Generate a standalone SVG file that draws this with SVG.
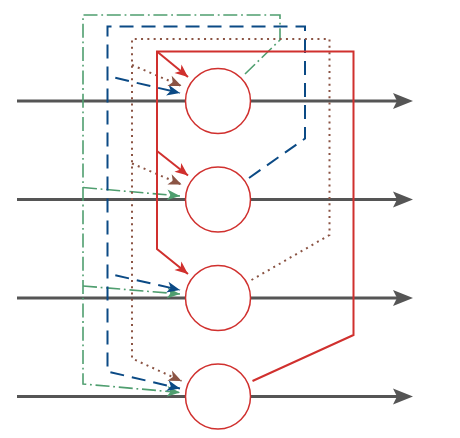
<svg xmlns="http://www.w3.org/2000/svg" width="460" height="438" viewBox="0 0 460 438">
<defs>
<style>
.axis{stroke:#555555;stroke-width:3;fill:none}
.node{fill:#ffffff;stroke:#d0302e;stroke-width:1.5}
.red{stroke:#d0302e;stroke-width:2;fill:none}
.blue{stroke:#0b4a85;stroke-width:2;fill:none;stroke-dasharray:14 8}
.branch{stroke-dashoffset:14}
.green{stroke:#4f9e6f;stroke-width:1.6;fill:none;stroke-dasharray:14 3.7 1.8 3.8}
.brown{stroke:#8b5444;stroke-width:2;fill:none;stroke-dasharray:2 4.3}
</style>
<marker id="aGrey" markerUnits="userSpaceOnUse" markerWidth="22" markerHeight="20" refX="4" refY="0" viewBox="0 -10 22 20" orient="auto" overflow="visible">
<path d="M20,0 L0,-8 L4,0 L0,8 Z" fill="#555555"/>
</marker>
<marker id="aRed" markerUnits="userSpaceOnUse" markerWidth="14" markerHeight="12" refX="13" refY="0" viewBox="0 -6 14 12" orient="auto" overflow="visible">
<path d="M13,0 L0,-5.5 L3.5,0 L0,5.5 Z" fill="#d0302e"/>
</marker>
<marker id="aBlue" markerUnits="userSpaceOnUse" markerWidth="14" markerHeight="12" refX="13" refY="0" viewBox="0 -6 14 12" orient="auto" overflow="visible">
<path d="M13,0 L0,-5.5 L3.5,0 L0,5.5 Z" fill="#0b4a85"/>
</marker>
<marker id="aGreen" markerUnits="userSpaceOnUse" markerWidth="14" markerHeight="12" refX="13" refY="0" viewBox="0 -6 14 12" orient="auto" overflow="visible">
<path d="M13,0 L0,-5.5 L3.5,0 L0,5.5 Z" fill="#4f9e6f"/>
</marker>
<marker id="aBrown" markerUnits="userSpaceOnUse" markerWidth="14" markerHeight="12" refX="13" refY="0" viewBox="0 -6 14 12" orient="auto" overflow="visible">
<path d="M13,0 L0,-5.5 L3.5,0 L0,5.5 Z" fill="#8b5444"/>
</marker>
</defs>
<rect width="460" height="438" fill="#ffffff"/>
<g id="connectors">
<g id="axes">
<line class="axis" x1="17" y1="101" x2="397" y2="101" marker-end="url(#aGrey)"/>
<line class="axis" x1="17" y1="199.5" x2="397" y2="199.5" marker-end="url(#aGrey)"/>
<line class="axis" x1="17" y1="298" x2="397" y2="298" marker-end="url(#aGrey)"/>
<line class="axis" x1="17" y1="396.5" x2="397" y2="396.5" marker-end="url(#aGrey)"/>
</g>
<g id="green-feedback">
<path class="green" d="M245,74 L280,40 L280,15 L83,15 L83,384 L180,392.5" marker-end="url(#aGreen)"/>
<path class="green" d="M83,187.5 L180,196" marker-end="url(#aGreen)"/>
<path class="green" d="M83,286 L180,294" marker-end="url(#aGreen)"/>
</g>
<g id="blue-feedback">
<path class="blue" d="M249,178 L305,138.5 L305,26.5 L107.5,26.5 L107.5,371.5 L180,388.5" marker-end="url(#aBlue)"/>
<path class="blue branch" d="M107.5,76 L180,93" marker-end="url(#aBlue)"/>
<path class="blue branch" d="M107.5,273.5 L180,290" marker-end="url(#aBlue)"/>
</g>
<g id="brown-feedback">
<path class="brown" d="M251.5,280 L329.5,235 L329.5,39 L132,39 L132,358.5 L181.5,381" marker-end="url(#aBrown)"/>
<path class="brown" d="M132,65 L181.5,86" marker-end="url(#aBrown)"/>
<path class="brown" d="M132,163.5 L181.5,184.5" marker-end="url(#aBrown)"/>
</g>
<g id="red-feedback">
<path class="red" d="M252.5,381 L353.5,335 L353.5,51.5 L157,51.5 L157,249 L188,274" marker-end="url(#aRed)"/>
<path class="red" d="M157,51.5 L188,77" marker-end="url(#aRed)"/>
<path class="red" d="M157,151 L188,175.5" marker-end="url(#aRed)"/>
</g>
</g>
<g id="node1"><circle class="node" cx="218" cy="101" r="32.5"/></g>
<g id="node2"><circle class="node" cx="218" cy="199.5" r="32.5"/></g>
<g id="node3"><circle class="node" cx="218" cy="298" r="32.5"/></g>
<g id="node4"><circle class="node" cx="218" cy="396.5" r="32.5"/></g>
</svg>
